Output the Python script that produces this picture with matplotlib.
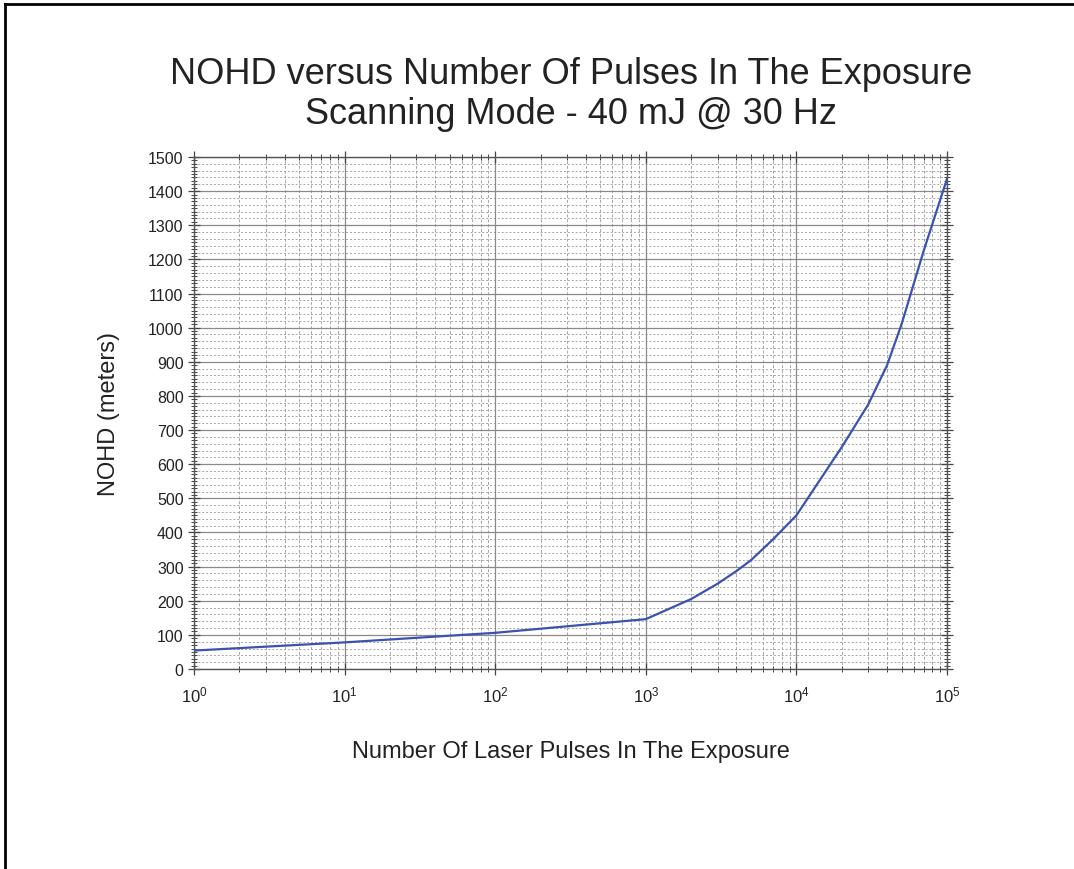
import numpy as np
import matplotlib
matplotlib.use("Agg")
import matplotlib.pyplot as plt
from matplotlib.ticker import LogLocator, MultipleLocator, NullFormatter
from matplotlib.lines import Line2D

plt.rcParams['font.family'] = ['Liberation Sans', 'DejaVu Sans']
plt.rcParams['mathtext.fontset'] = 'custom'
plt.rcParams['mathtext.rm'] = 'Liberation Sans'

pulses = [1, 10, 100, 1000, 2000, 3000, 4000, 5000, 7000, 10000, 20000, 30000, 40000, 50000, 70000, 100000]
nohd = [54, 78, 106, 146, 205, 250, 287, 319, 380, 450, 650, 775, 890, 1011, 1225, 1436]

title_lines = ["NOHD versus Number Of Pulses In The Exposure", "Scanning Mode - 40 mJ @ 30 Hz"]
xlabel = "Number Of Laser Pulses In The Exposure"
ylabel = "NOHD (meters)"

fig = plt.figure(figsize=(10.74, 8.7), dpi=100)
ax = fig.add_axes([194/1074, 1-670/870, (947-194)/1074, (670-158)/870])

ax.plot(pulses, nohd, color='#3a52b0', lw=1.6, zorder=5)
ax.set_xscale('log')
ax.set_xlim(1, 1e5)
ax.set_ylim(0, 1500)

ax.xaxis.set_major_locator(LogLocator(base=10, numticks=10))
ax.xaxis.set_minor_locator(LogLocator(base=10, subs=np.arange(2, 10), numticks=20))
ax.xaxis.set_minor_formatter(NullFormatter())
ax.yaxis.set_major_locator(MultipleLocator(100))
ax.yaxis.set_minor_locator(MultipleLocator(10))

# grids
ax.grid(which='major', axis='both', color='#8a8a8a', lw=0.9, ls='-', zorder=1)
ax.grid(which='minor', axis='x', color='#a5a5a5', lw=0.7, ls=(0, (3, 2)), zorder=1)
for v in np.arange(20, 1500, 20):
    if v % 100:
        ax.axhline(v, color='#a5a5a5', lw=0.7, ls=(0, (2, 2)), zorder=1)

ax.tick_params(which='both', direction='inout', top=True, right=True, colors='#444444',
               labelcolor='#222222', labelsize=11.5)
ax.tick_params(which='major', length=8, width=0.9)
ax.tick_params(which='minor', length=4, width=0.7)
ax.tick_params(axis='x', which='major', pad=7, labelsize=12)
for s in ax.spines.values():
    s.set_color('#555555')
    s.set_linewidth(1.0)

ax.set_xlabel(xlabel, fontsize=17, color='#222222', labelpad=26)
ax.set_ylabel(ylabel, fontsize=17, color='#222222', labelpad=20)

fig.text(571/1074, 1-75/870, title_lines[0], ha='center', va='center', fontsize=26, color='#222222')
fig.text(571/1074, 1-114/870, title_lines[1], ha='center', va='center', fontsize=26, color='#222222')

# figure frame (left and top)
fig.add_artist(Line2D([5/1074, 5/1074], [0, 1-5/870], transform=fig.transFigure, color='black', lw=2))
fig.add_artist(Line2D([5/1074, 1], [1-5/870, 1-5/870], transform=fig.transFigure, color='black', lw=2))

fig.savefig('out.png', dpi=100)
